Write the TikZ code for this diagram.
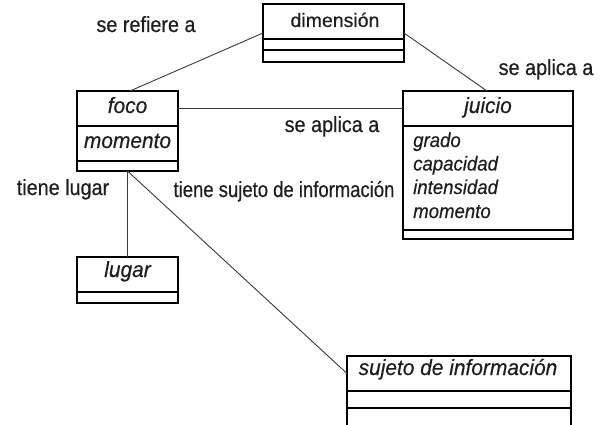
\documentclass[tikz,border=0pt]{standalone}
\usepackage{fontspec}
\setmainfont[FakeBold=0.4]{Liberation Sans}
\newfontfamily\lblfont[FakeStretch=0.9,FakeBold=0.4]{Liberation Sans}
\newfontfamily\lblfontn[FakeStretch=0.84,FakeBold=0.4]{Liberation Sans}
\newfontfamily\clsfont[FakeStretch=0.95,FakeBold=0.4]{Liberation Sans}
\newfontfamily\attrfont[FakeStretch=0.93,FakeBold=0.4]{Liberation Sans}
\definecolor{ink}{HTML}{1E1E1E}
\definecolor{wire}{HTML}{3A3A3A}
\tikzset{
  cls/.style={draw=black, line width=1.5pt, inner sep=0pt, outer sep=0pt, rectangle, fill=white},
  conn/.style={draw=wire, line width=0.9pt},
  lbl/.style={inner sep=0pt, anchor=base, text=ink, font=\lblfont\fontsize{22}{26}\selectfont},
  lbln/.style={inner sep=0pt, anchor=base, text=ink, font=\lblfontn\fontsize{22}{26}\selectfont},
  dname/.style={inner sep=0pt, anchor=base, text=ink, font=\fontsize{19.5}{23}\selectfont},
  cname/.style={inner sep=0pt, anchor=base, text=ink, font=\clsfont\fontsize{22}{26}\selectfont\itshape},
  cattr/.style={inner sep=0pt, anchor=base west, text=ink, font=\attrfont\fontsize{20}{24}\selectfont\itshape},
}
\begin{document}
\begin{tikzpicture}[x=1pt,y=-1pt]
\useasboundingbox[fill=white] (0,0) rectangle (608,425);
% dimension
\node[cls, minimum width=141pt, minimum height=35pt] (dimT) at (333.5,21.5) {};
\node[cls, minimum width=141pt, minimum height=11pt, anchor=north] (dimA) at (dimT.south) {};
\node[cls, minimum width=141pt, minimum height=12pt, anchor=north] (dimO) at (dimA.south) {};
\node[dname] (dimN) at (335,27) {dimensión};
% foco
\node[cls, minimum width=101pt, minimum height=35pt] (focoT) at (127.5,108.5) {};
\node[cls, minimum width=101pt, minimum height=35pt, anchor=north] (focoA) at (focoT.south) {};
\node[cls, minimum width=101pt, minimum height=10pt, anchor=north] (focoO) at (focoA.south) {};
\node[cname] (focoN) at (127.5,113) {foco};
\node[cname] (focoM) at (127.5,148) {momento};
% juicio
\node[cls, minimum width=170pt, minimum height=35pt] (juiT) at (488,108.5) {};
\node[cls, minimum width=170pt, minimum height=104pt, anchor=north] (juiA) at (juiT.south) {};
\node[cls, minimum width=170pt, minimum height=9pt, anchor=north] (juiO) at (juiA.south) {};
\node[cname] (juiN) at (488,113) {juicio};
\node[cattr] (a1) at (413,147) {grado};
\node[cattr] (a2) at (413,170.5) {capacidad};
\node[cattr] (a3) at (413,194) {intensidad};
\node[cattr] (a4) at (413,218) {momento};
% lugar
\node[cls, minimum width=101pt, minimum height=35pt] (lugT) at (127.5,274.5) {};
\node[cls, minimum width=101pt, minimum height=11pt, anchor=north] (lugO) at (lugT.south) {};
\node[cname] (lugN) at (127.5,277) {lugar};
% sujeto de informacion
\node[cls, minimum width=224pt, minimum height=35pt] (sujT) at (459,373.5) {};
\node[cls, minimum width=224pt, minimum height=17pt, anchor=north] (sujA) at (sujT.south) {};
\node[inner sep=0pt, outer sep=0pt, minimum width=224pt, minimum height=17pt, anchor=north] (sujO) at (sujA.south) {};
\draw[line width=1.5pt] (sujO.north west) -- (sujO.south west) (sujO.north east) -- (sujO.south east);
\node[cname] (sujN) at (458,375) {sujeto de información};
% connectors
\draw[conn] ([yshift=6pt]dimT.south west) -- ([xshift=2.5pt]focoT.north);
\draw[conn] ([yshift=6pt]dimT.south east) -- ([xshift=-1pt]juiT.north);
\draw[conn] (focoT.east) -- (juiT.west);
\draw[conn] (focoO.south) -- (lugT.north);
\draw[conn] (focoO.south) -- (sujT.west);
% labels
\node[lbl] (l1) at (146,32) {se refiere a};
\node[lbl] (l2) at (546,75) {se aplica a};
\node[lbl] (l3) at (332,132) {se aplica a};
\node[lbl] (l4) at (63,195) {tiene lugar};
\node[lbln] (l5) at (284,197) {tiene sujeto de información};
\end{tikzpicture}
\end{document}
